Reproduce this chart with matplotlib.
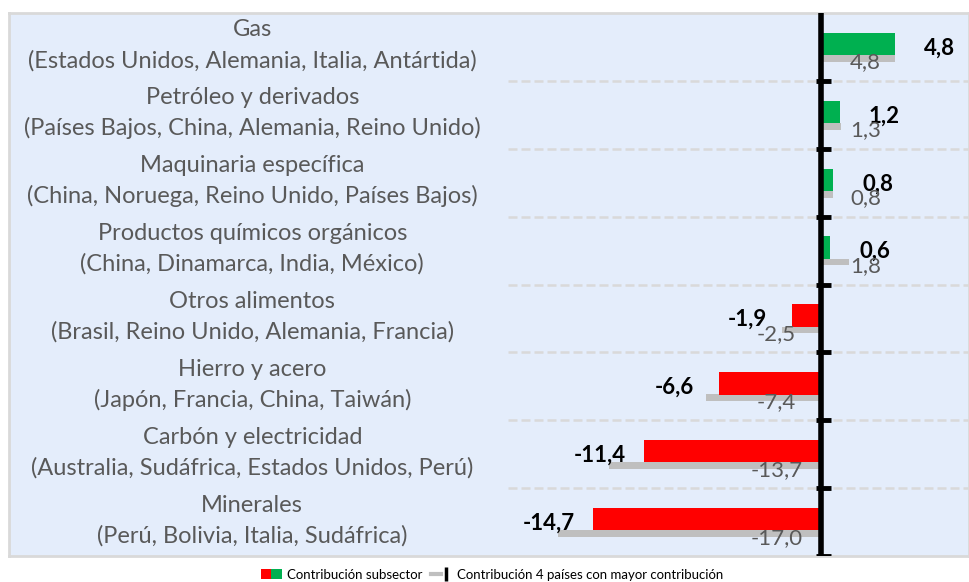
import matplotlib.pyplot as plt
from matplotlib.patches import Patch
from matplotlib.lines import Line2D
from matplotlib.legend_handler import HandlerTuple

plt.rcParams['font.family'] = ['Lato', 'DejaVu Sans']

sectores = ['Gas', 'Petróleo y derivados', 'Maquinaria específica',
            'Productos químicos orgánicos', 'Otros alimentos', 'Hierro y acero',
            'Carbón y electricidad', 'Minerales']
paises = ['(Estados Unidos, Alemania, Italia, Antártida)',
          '(Países Bajos, China, Alemania, Reino Unido)',
          '(China, Noruega, Reino Unido, Países Bajos)',
          '(China, Dinamarca, India, México)',
          '(Brasil, Reino Unido, Alemania, Francia)',
          '(Japón, Francia, China, Taiwán)',
          '(Australia, Sudáfrica, Estados Unidos, Perú)',
          '(Perú, Bolivia, Italia, Sudáfrica)']
contrib_subsector = [4.8, 1.2, 0.8, 0.6, -1.9, -6.6, -11.4, -14.7]
contrib_4paises = [4.8, 1.3, 0.8, 1.8, -2.5, -7.4, -13.7, -17.0]


def fmt(v):
    return '{:.1f}'.format(v).replace('.', ',')


fig = plt.figure(figsize=(9.69, 5.82), dpi=100)
ax = fig.add_axes([9 / 969, 1 - 556 / 582, 1 - 9 / 969, 543 / 582])
ax.set_facecolor('#e4edfb')
for s in ax.spines.values():
    s.set_color('#d9d9d9')
    s.set_linewidth(2)

n = len(sectores)
filas = list(range(n))
colores = ['#00b050' if v >= 0 else '#ff0000' for v in contrib_subsector]

ax.barh([i + 0.457 for i in filas], contrib_subsector, height=0.33,
        color=colores, zorder=3)
ax.barh([i + 0.67 for i in filas], contrib_4paises, height=0.1,
        color='#bfbfbf', zorder=2)

# dashed separators between categories
for k in range(1, n):
    ax.plot([-20.2, 12], [k, k], color='#d9d9d9', lw=1.8,
            dashes=[3.6, 1.6], zorder=1)

# vertical zero axis with tick marks
ax.axvline(0, color='black', lw=4, zorder=5)
ax.hlines(range(1, n + 1), -0.35, 0.65, color='black', lw=3.5, zorder=5)

for i in filas:
    v = contrib_subsector[i]
    w = contrib_4paises[i]
    ax.annotate(fmt(v), (v, i + 0.515), xytext=(32 if v >= 0 else -32, 0),
                textcoords='offset points', ha='center', va='center',
                fontsize=16, fontweight='bold', color='black', zorder=6)
    ax.annotate(fmt(w), (0, i + 0.73), xytext=(32 if w >= 0 else -32, 0),
                textcoords='offset points', ha='center', va='center',
                fontsize=16, color='#595959', zorder=6)
    ax.text(-36.7, i + 0.25, sectores[i], ha='center', va='center',
            fontsize=17, color='#595959')
    ax.text(-36.7, i + 0.70, paises[i], ha='center', va='center',
            fontsize=17, color='#595959')

ax.set_xlim(-52.4, 9.55)
ax.set_ylim(n, 0)
ax.set_xticks([])
ax.set_yticks([])

h1 = (Patch(facecolor='#ff0000'), Patch(facecolor='#00b050'))
h2 = (Line2D([0], [0], color='#bfbfbf', lw=3),
      Line2D([0], [0], color='black', marker='|', ls='none', ms=10, mew=2.5))
fig.legend([h1, h2], ['Contribución subsector',
                      'Contribución 4 países con mayor contribución'],
           handler_map={tuple: HandlerTuple(ndivide=None, pad=0)},
           loc='center', bbox_to_anchor=(492 / 969, 1 - 575 / 582),
           ncol=2, frameon=False, fontsize=9.5, handlelength=1.6,
           handletextpad=0.4, columnspacing=0.6, handleheight=0.8)

fig.savefig('out.png', dpi=100)
